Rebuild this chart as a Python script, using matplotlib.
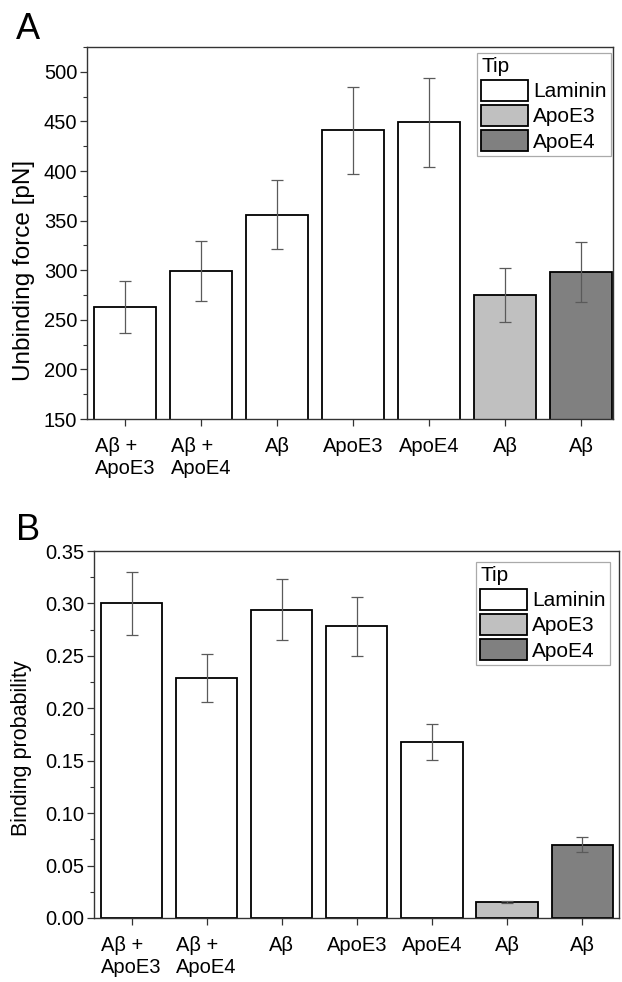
import numpy as np
import matplotlib

matplotlib.use("Agg")
import matplotlib.pyplot as plt  # noqa: E402
from matplotlib.patches import Patch  # noqa: E402
from matplotlib.ticker import MultipleLocator, FormatStrFormatter  # noqa: E402

plt.rcParams["font.family"] = ["Liberation Sans", "DejaVu Sans"]

# values
labels = ["Aβ +\nApoE3", "Aβ +\nApoE4", "Aβ", "ApoE3", "ApoE4", "Aβ", "Aβ"]
tip = ["Laminin", "Laminin", "Laminin", "Laminin", "Laminin", "ApoE3", "ApoE4"]
force = [263, 299, 356, 441, 449, 275, 298]
force_err = [26, 30, 35, 44, 45, 27, 30]
prob = [0.300, 0.229, 0.294, 0.278, 0.168, 0.015, 0.070]
prob_err = [0.030, 0.023, 0.029, 0.028, 0.017, 0.001, 0.007]
tip_names = ["Laminin", "ApoE3", "ApoE4"]

FILL = {"Laminin": "white", "ApoE3": "#c0c0c0", "ApoE4": "#808080"}
FS = 14.5


def panel(ax, vals, errs, ylabel, ylabel_size, legend_anchor):
    x = np.arange(len(vals))
    ax.bar(x, vals, width=0.815, color=[FILL[t] for t in tip],
           edgecolor="black", linewidth=1.3, zorder=2)
    ax.errorbar(x, vals, yerr=errs, fmt="none", ecolor="#5a5a5a",
                elinewidth=0.9, capsize=4.5, capthick=0.9, zorder=3)
    ax.set_xticks(x)
    ax.set_xticklabels(labels, fontsize=FS, multialignment="left",
                       va="top")
    ax.tick_params(axis="both", direction="out", length=5, width=0.9,
                   labelsize=FS, color="#333333")
    ax.tick_params(axis="x", pad=8)
    ax.tick_params(axis="y", pad=2)
    ax.tick_params(axis="y", which="minor", direction="out", length=3,
                   width=0.8, color="#333333")
    ax.set_ylabel(ylabel, fontsize=ylabel_size)
    for s in ax.spines.values():
        s.set_linewidth(1.0)
        s.set_color("#333333")
    handles = [Patch(facecolor=FILL[t], edgecolor="black", linewidth=1.3)
               for t in tip_names]
    leg = ax.legend(handles, tip_names, title="Tip", loc="upper right",
                    bbox_to_anchor=legend_anchor, fontsize=15,
                    title_fontsize=15, fancybox=False, framealpha=1,
                    edgecolor="#aaaaaa", handlelength=2.25,
                    handleheight=1.15, labelspacing=0.18, borderpad=0.2,
                    handletextpad=0.25, borderaxespad=0.0)
    leg._legend_box.align = "left"
    leg.get_frame().set_linewidth(0.9)


fig = plt.figure(figsize=(6.22, 9.82), dpi=100)

axA = fig.add_axes([0.1399, 0.5733, 0.8456, 0.3788])
panel(axA, force, force_err, "Unbinding force [pN]", 17.5, (0.996, 0.984))
axA.set_xlim(-0.5, 6.42)
axA.set_ylim(150, 525)
axA.yaxis.set_major_locator(MultipleLocator(50))
axA.yaxis.set_minor_locator(MultipleLocator(25))
axA.yaxis.set_label_coords(-0.099, 0.40)

axB = fig.add_axes([0.1511, 0.0652, 0.8441, 0.3737])
panel(axB, prob, prob_err, "Binding probability", 15.5, (0.983, 0.970))
axB.set_xlim(-0.5, 6.49)
axB.set_ylim(0, 0.35)
axB.yaxis.set_major_locator(MultipleLocator(0.05))
axB.yaxis.set_minor_locator(MultipleLocator(0.025))
axB.yaxis.set_major_formatter(FormatStrFormatter("%.2f"))
axB.yaxis.set_label_coords(-0.118, 0.463)

fig.text(0.025, 0.988, "A", fontsize=26, va="top", ha="left")
fig.text(0.025, 0.478, "B", fontsize=26, va="top", ha="left")

fig.savefig("out.png", dpi=100)
